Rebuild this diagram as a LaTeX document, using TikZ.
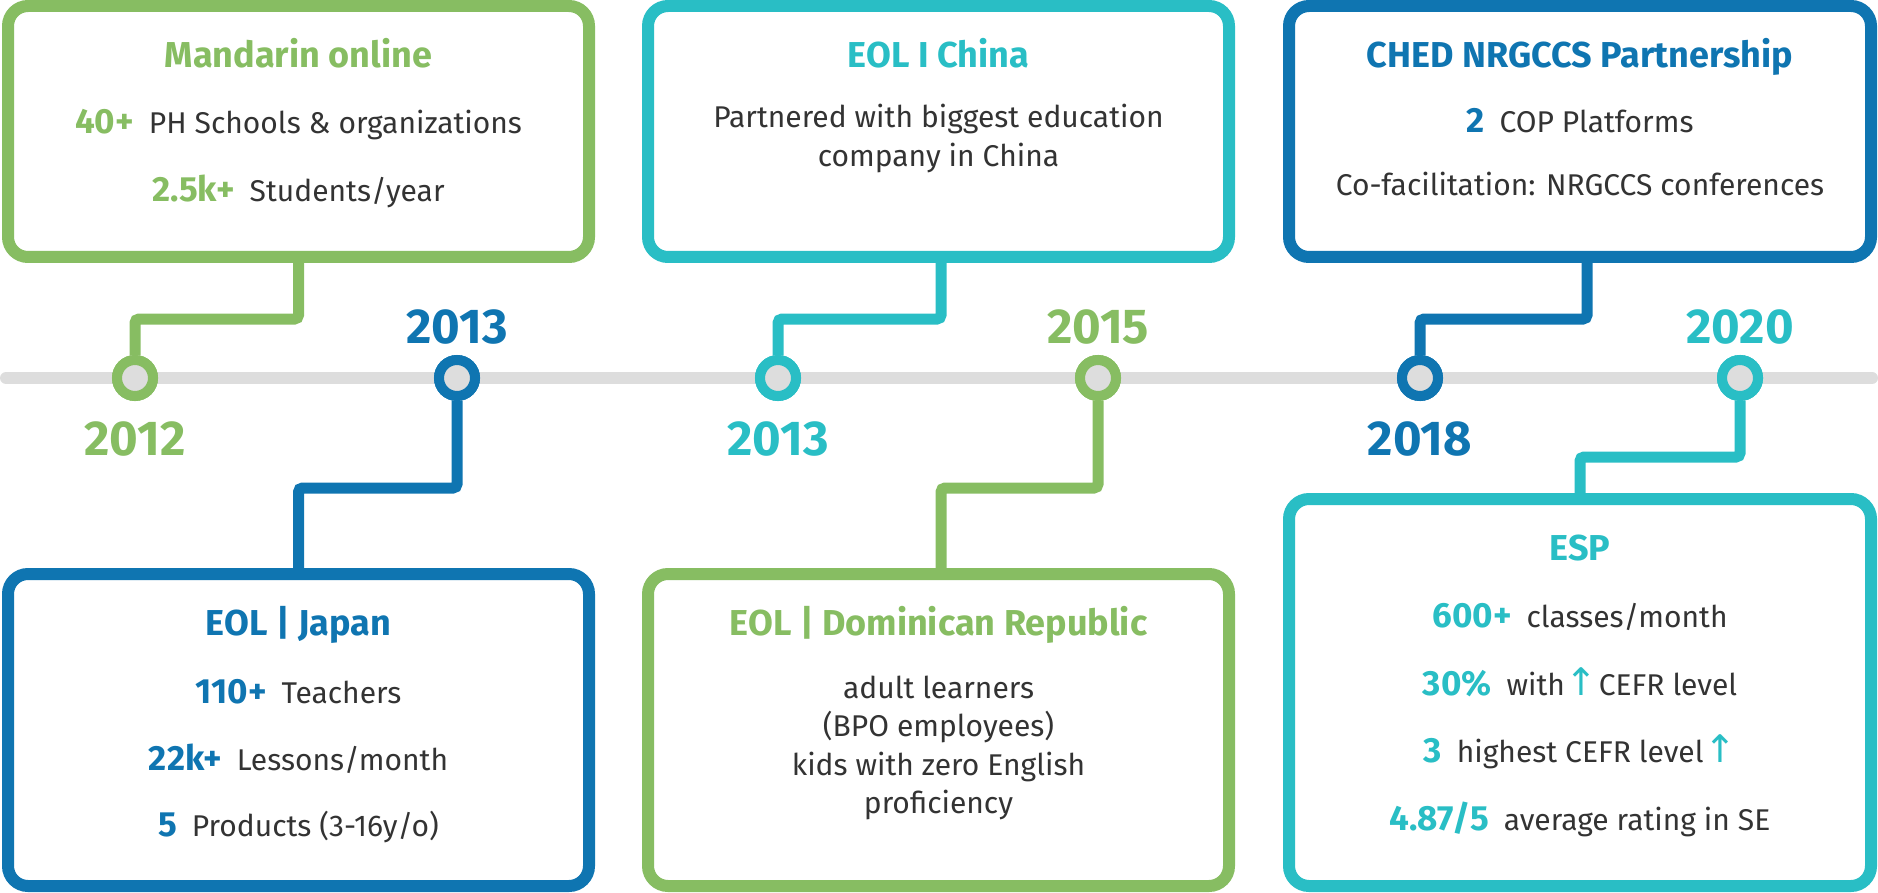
\documentclass[tikz,border=0pt]{standalone}
\usepackage{fontspec}
\setmainfont{Fira Sans}
\newfontfamily\symfont{DejaVu Sans}
\definecolor{grn}{HTML}{87BD62}
\definecolor{tel}{HTML}{29BEC5}
\definecolor{blu}{HTML}{0F75B1}
\definecolor{tlgray}{HTML}{DDDDDD}
\definecolor{txt}{HTML}{333333}
\tikzset{
 box/.style={draw, rounded corners=20pt, line width=12pt, minimum width=581pt, inner sep=0pt, fill=white},
 conn/.style={line width=11pt, rounded corners=4pt},
 dot/.style={circle, draw, line width=10pt, fill=tlgray, minimum size=36pt, inner sep=0pt},
 yr/.style={font=\fontsize{49}{49}\selectfont\bfseries, anchor=base, inner sep=0pt},
 ttl/.style={font=\fontsize{36}{36}\selectfont\bfseries, anchor=base, inner sep=0pt},
 ln/.style={font=\fontsize{30}{30}\selectfont, text=txt, anchor=base, inner sep=0pt},
}
\newcommand{\numb}[2]{{\fontsize{35}{35}\selectfont\bfseries\color{#1}#2}\hspace{15pt}}
\newcommand{\uparr}{{\symfont\color{tel}\fontsize{38}{38}\selectfont ↑}}
\begin{document}
\begin{tikzpicture}[x=1pt,y=-1pt]
\useasboundingbox (0,0) rectangle (1878,893);
% timeline
\coordinate (tlL) at (6,378);
\coordinate (tlR) at (1872,378);
\draw[line width=12pt, tlgray, line cap=round] (tlL) -- (tlR);
% dots
\node[dot, draw=grn] (c1) at (135,378) {};
\node[dot, draw=blu] (c2) at (457,378) {};
\node[dot, draw=tel] (c3) at (778,378) {};
\node[dot, draw=grn] (c4) at (1098,378) {};
\node[dot, draw=blu] (c5) at (1420,378) {};
\node[dot, draw=tel] (c6) at (1740,378) {};
% boxes
\node[box, draw=grn, minimum height=251pt] (b1) at (298.5,131.5) {};
\node[box, draw=tel, minimum height=251pt] (b2) at (938.5,131.5) {};
\node[box, draw=blu, minimum height=251pt, minimum width=582pt] (b3) at (1580,131.5) {};
\node[box, draw=blu, minimum height=312pt] (b4) at (298.5,730) {};
\node[box, draw=grn, minimum height=312pt] (b5) at (938.5,730) {};
\node[box, draw=tel, minimum height=387pt, minimum width=582pt] (b6) at (1580,692.5) {};
% connectors
\draw[conn, grn] (b1.south) -- ++(0,56) -| (c1.north);
\draw[conn, blu] (c2.south) -- ++(0,87) -| (b4.north);
\draw[conn, tel] ([xshift=2.5pt]b2.south) -- ++(0,56) -| (c3.north);
\draw[conn, grn] (c4.south) -- ++(0,87) -| ([xshift=2.5pt]b5.north);
\draw[conn, blu] ([xshift=7pt]b3.south) -- ++(0,56) -| (c5.north);
\draw[conn, tel] (c6.south) -- ++(0,56) -| (b6.north);
% redraw dots on top
\node[dot, draw=grn] at (c1) {};
\node[dot, draw=blu] at (c2) {};
\node[dot, draw=tel] at (c3) {};
\node[dot, draw=grn] at (c4) {};
\node[dot, draw=blu] at (c5) {};
\node[dot, draw=tel] at (c6) {};
% years
\node[yr, text=grn] (y1) at (135,455) {2012};
\node[yr, text=blu] (y2) at (457,343) {2013};
\node[yr, text=tel] (y3) at (778,455) {2013};
\node[yr, text=grn] (y4) at (1098,343) {2015};
\node[yr, text=blu] (y5) at (1420,455) {2018};
\node[yr, text=tel] (y6) at (1740,343) {2020};
% box 1
\node[ttl, text=grn] (t1) at (298.5,68) {Mandarin online};
\node[ln] (t1a) at (298.5,134) {\numb{grn}{40+}PH Schools \& organizations};
\node[ln] (t1b) at (298.5,202) {\numb{grn}{2.5k+}Students/year};
% box 2
\node[ttl, text=tel] (t2) at (938.5,68) {EOL I China};
\node[ln] (t2a) at (938.5,128) {Partnered with biggest education};
\node[ln] (t2b) at (938.5,167) {company in China};
% box 3
\node[ttl, text=blu] (t3) at (1580,68) {CHED NRGCCS Partnership};
\node[ln] (t3a) at (1580,133) {\numb{blu}{2}COP Platforms};
\node[ln] (t3b) at (1580,196) {Co-facilitation: NRGCCS conferences};
% box 4
\node[ttl, text=blu] (t4) at (298.5,635) {EOL | Japan};
\node[ln] (t4a) at (298.5,703) {\numb{blu}{110+}Teachers};
\node[ln] (t4b) at (298.5,770) {\numb{blu}{22k+}Lessons/month};
\node[ln] (t4c) at (298.5,836) {\numb{blu}{5}Products (3-16y/o)};
% box 5
\node[ttl, text=grn] (t5) at (938.5,635) {EOL | Dominican Republic};
\node[ln] (t5a) at (938.5,698) {adult learners};
\node[ln] (t5b) at (938.5,736) {(BPO employees)};
\node[ln] (t5c) at (938.5,775) {kids with zero English};
\node[ln] (t5d) at (938.5,813) {proficiency};
% box 6
\node[ttl, text=tel] (t6) at (1580,560) {ESP};
\node[ln] (t6a) at (1580,627) {\numb{tel}{600+}classes/month};
\node[ln] (t6b) at (1580,695) {\numb{tel}{30\%}with\kern1pt\uparr\kern1pt CEFR level};
\node[ln] (t6c) at (1580,762) {\numb{tel}{3}highest CEFR level\kern1pt\uparr};
\node[ln] (t6d) at (1580,830) {\numb{tel}{4.87/5}average rating in SE};
\end{tikzpicture}
\end{document}
